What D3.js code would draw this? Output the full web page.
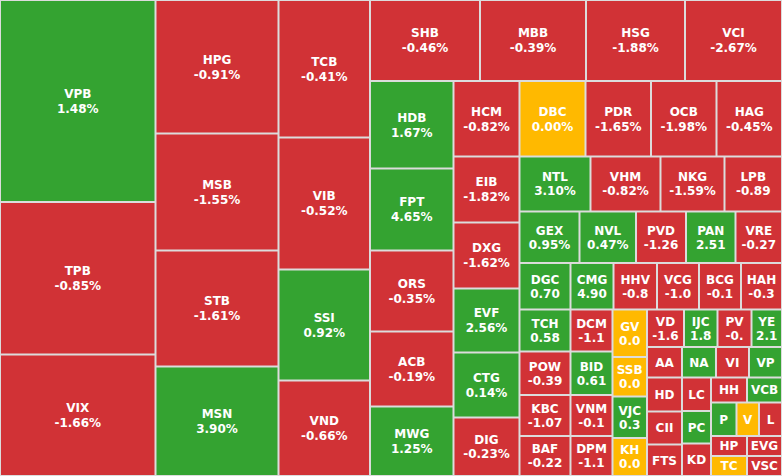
<!DOCTYPE html>
<html>
<head>
<meta charset="utf-8">
<script src="https://cdn.jsdelivr.net/npm/d3@7"></script>
<style>
  html, body { margin: 0; padding: 0; background: #dcdcdc; }
  svg { display: block; }
  text { font-family: "DejaVu Sans", Verdana, sans-serif; font-weight: bold; }
</style>
</head>
<body>
<svg id="chart" width="782" height="476"></svg>
<script>
// ---- data ----
const tickers = ["VPB","TPB","VIX","HPG","MSB","STB","MSN","TCB","VIB","SSI","VND",
  "SHB","MBB","HSG","VCI","HDB","FPT","ORS","ACB","MWG","HCM","DBC","PDR","OCB","HAG",
  "EIB","DXG","EVF","CTG","DIG","NTL","VHM","NKG","LPB","GEX","NVL","PVD","PAN","VRE",
  "DGC","CMG","HHV","VCG","BCG","HAH","TCH","POW","KBC","BAF","DCM","BID","VNM","DPM",
  "GV","SSB","VJC","KH","VD","IJC","PV","YE","AA","NA","VI","VP","HD","CII","FTS",
  "LC","PC","KD","HH","VCB","P","V","L","HP","EVG","TC","VSC"];

const weights = [31411,23714,18893, 16421,14391,14268,13469, 12581,12078,10157,8738,
  8910,8586,8019,7857, 7306,6847,6764,6263,5803, 4983,4983,4945,4945,4945,
  4356,4356,4224,4290,3861, 3905,3850,3520,3163, 3090,2910,2575,2549,2395,
  2372,2000,2023,1953,1953,1907, 2142,2219,2091,2040, 1764,1827,1722,1680,
  1639,1363,1432,1311, 1388,1256,1275,1144, 1068,1037,1007,1007,
  1190,1155,1103, 972,943,943, 900,875, 854,754,771, 720,700, 720,700];

const changeText = ["1.48%","-0.85%","-1.66%","-0.91%","-1.55%","-1.61%","3.90%",
  "-0.41%","-0.52%","0.92%","-0.66%","-0.46%","-0.39%","-1.88%","-2.67%",
  "1.67%","4.65%","-0.35%","-0.19%","1.25%","-0.82%","0.00%","-1.65%","-1.98%","-0.45%",
  "-1.82%","-1.62%","2.56%","0.14%","-0.23%","3.10%","-0.82%","-1.59%","-0.89",
  "0.95%","0.47%","-1.26","2.51","-0.27","0.70","4.90","-0.8","-1.0","-0.1","-0.3",
  "0.58","-0.39","-1.07","-0.22","-1.1","0.61","-0.1","-1.1","0.0","0.0","0.3","0.0",
  "-1.6","1.8","-0.","2.1",
  "","","","","","","","","","","","","","","","","","",""];

// direction of cells whose change is not printed
const hiddenTrend = {AA:-1, NA:1, VI:-1, VP:1, HD:-1, CII:-1, FTS:-1, LC:-1, PC:1, KD:-1,
  HH:-1, VCB:1, P:1, V:0, L:-1, HP:-1, EVG:-1, TC:0, VSC:-1};

// squarified strips: number of cells per strip and strip orientation
const stripSizes = [3,4,4,4,5,5,5,4,5,6,4,4,4,4,4,3,3,2,3,2,2];
const stripKinds = ["col","col","col","row","col","row","col","row","row","row",
  "col","col","col","row","row","col","col","row","row","row","row"];

// ---- chart ----
const W = 782, H = 476;
const colorUp = "#34a331", colorDown = "#d13236", colorFlat = "#ffb900";

const leaves = tickers.map((t, i) => {
  const txt = changeText[i];
  const trend = txt ? (txt[0] === "-" ? -1 : (parseFloat(txt) > 0 ? 1 : 0)) : hiddenTrend[t];
  return {name: t, weight: weights[i], text: txt, trend};
});

function stripTile(parent, x0, y0, x1, y1) {
  const kids = parent.children;
  let i = 0, remaining = parent.value;
  stripSizes.forEach((n, s) => {
    const row = kids.slice(i, i + n); i += n;
    const v = d3.sum(row, d => d.value);
    const strip = {children: row, value: v};
    if (stripKinds[s] === "col") {
      const xe = x0 + (x1 - x0) * v / remaining;
      d3.treemapSlice(strip, x0, y0, xe, y1);
      x0 = xe;
    } else {
      const ye = y0 + (y1 - y0) * v / remaining;
      d3.treemapDice(strip, x0, y0, x1, ye);
      y0 = ye;
    }
    remaining -= v;
  });
}

const root = d3.hierarchy({children: leaves}).sum(d => d.weight || 0);
d3.treemap().size([W, H]).tile(stripTile)(root);

const svg = d3.select("#chart");
svg.append("rect").attr("width", W).attr("height", H).attr("fill", "#dcdcdc");

const cell = svg.selectAll("g.cell").data(root.leaves()).join("g").attr("class", "cell");

cell.append("rect")
  .attr("x", d => d.x0 + 1)
  .attr("y", d => d.y0 + 1)
  .attr("width", d => Math.max(0, d.x1 - d.x0 - 2))
  .attr("height", d => Math.max(0, d.y1 - d.y0 - 2))
  .attr("fill", d => d.data.trend > 0 ? colorUp : d.data.trend < 0 ? colorDown : colorFlat);

const fs = 12, cap = 8.7;
cell.each(function(d) {
  const g = d3.select(this);
  const cx = (d.x0 + d.x1) / 2, cy = (d.y0 + d.y1) / 2, h = d.y1 - d.y0;
  if (d.data.text) {
    const s = h > 60 ? 15 : 14;
    const b1 = cy - (s - cap) / 2;
    g.append("text").attr("x", cx).attr("y", b1).attr("text-anchor", "middle")
      .attr("font-size", fs).attr("fill", "#fff").text(d.data.name);
    g.append("text").attr("x", cx).attr("y", b1 + s).attr("text-anchor", "middle")
      .attr("font-size", fs).attr("fill", "#fff").text(d.data.text);
  } else {
    g.append("text").attr("x", cx).attr("y", cy + cap / 2).attr("text-anchor", "middle")
      .attr("font-size", fs).attr("fill", "#fff").text(d.data.name);
  }
});
</script>
</body>
</html>
